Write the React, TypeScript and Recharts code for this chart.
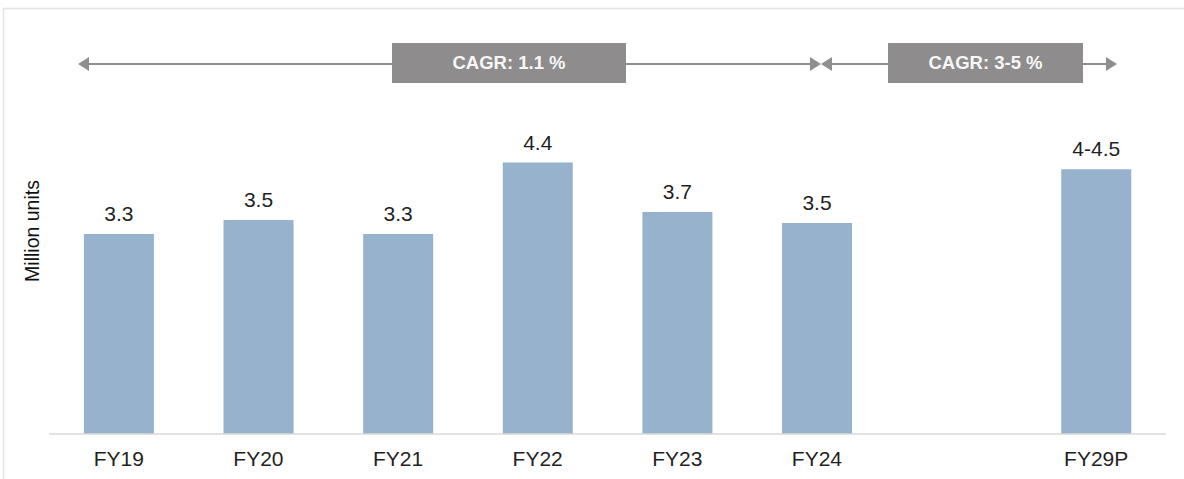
import React from 'react';
import { BarChart, Bar, XAxis, YAxis, LabelList } from 'recharts';

const categories = ['FY19', 'FY20', 'FY21', 'FY22', 'FY23', 'FY24', ' ', 'FY29P'];
const values: (number | null)[] = [3.28, 3.51, 3.28, 4.45, 3.64, 3.46, null, 4.34];
const valueLabels = ['3.3', '3.5', '3.3', '4.4', '3.7', '3.5', '', '4-4.5'];
const cagrLabels = ['CAGR: 1.1 %', 'CAGR: 3-5 %'];
const yAxisTitle = 'Million units';

const data = categories.map((c, i) => ({ name: c, value: values[i], label: valueLabels[i] }));

const W = 1184;
const H = 479;
const FONT = '"Liberation Sans", Arial, Helvetica, sans-serif';
const BAR = '#96B2CC';
const ARROW = '#8f8f8f';
const BOX = '#8e8c8d';

const Tick = (props: any) => {
  const { x, y, payload } = props;
  return (
    <text x={x} y={y + 32} textAnchor="middle" fontFamily={FONT} fontSize={21} fill="#1f1f24">
      {payload.value}
    </text>
  );
};

const ValueLabel = (props: any) => {
  const { x, y, width, value } = props;
  if (!value) return null;
  return (
    <text x={x + width / 2} y={y - 13} textAnchor="middle" fontFamily={FONT} fontSize={21} fill="#1f1f24">
      {value}
    </text>
  );
};

const Annotations = () => {
  const ly = 64;
  const head = (tipX: number, dir: number) => {
    const bx = tipX - dir * 11;
    return <polygon points={`${tipX},${ly} ${bx},${ly - 7} ${bx},${ly + 7}`} fill={ARROW} />;
  };
  return (
    <svg width={W} height={H} style={{ position: 'absolute', left: 0, top: 0, pointerEvents: 'none' }}>
      <rect x={3.5} y={8.5} width={W + 20} height={H + 20} fill="none" stroke="#e3e3e3" strokeWidth={1.5} />
      <line x1={88} y1={ly} x2={811} y2={ly} stroke={ARROW} strokeWidth={2} />
      <line x1={831} y1={ly} x2={1107} y2={ly} stroke={ARROW} strokeWidth={2} />
      {head(78, -1)}
      {head(821, 1)}
      {head(821, -1)}
      {head(1117, 1)}
      <rect x={392} y={43} width={234} height={40} fill={BOX} />
      <rect x={888} y={43} width={195} height={40} fill={BOX} />
      <text x={509} y={63} dy="0.35em" textAnchor="middle" fontFamily={FONT} fontWeight="bold" fontSize={18.5} fill="#f7f7f7">
        {cagrLabels[0]}
      </text>
      <text x={985.5} y={63} dy="0.35em" textAnchor="middle" fontFamily={FONT} fontWeight="bold" fontSize={18.5} fill="#f7f7f7">
        {cagrLabels[1]}
      </text>
      <text
        x={32}
        y={231}
        dy="0.35em"
        textAnchor="middle"
        transform="rotate(-90 32 231)"
        fontFamily={FONT}
        fontSize={19.5}
        fill="#111"
      >
        {yAxisTitle}
      </text>
    </svg>
  );
}

export default function App() {
  return (
    <div style={{ position: 'absolute', left: 0, top: 0, width: W, height: H, background: '#fff' }}>
      <BarChart
        width={W}
        height={H}
        data={data}
        margin={{ top: 129, right: 18, bottom: 0, left: 49 }}
        barCategoryGap="25%"
      >
        <XAxis
          dataKey="name"
          height={45}
          tickLine={false}
          tickSize={0}
          tickMargin={0}
          interval={0}
          axisLine={{ stroke: '#d9d9d9', strokeWidth: 1.5 }}
          tick={<Tick />}
        />
        <YAxis hide width={0} domain={[0, 5]} />
        <Bar dataKey="value" fill={BAR} isAnimationActive={false}>
          <LabelList dataKey="label" content={<ValueLabel />} />
        </Bar>
      </BarChart>
      <Annotations />
    </div>
  );
}
